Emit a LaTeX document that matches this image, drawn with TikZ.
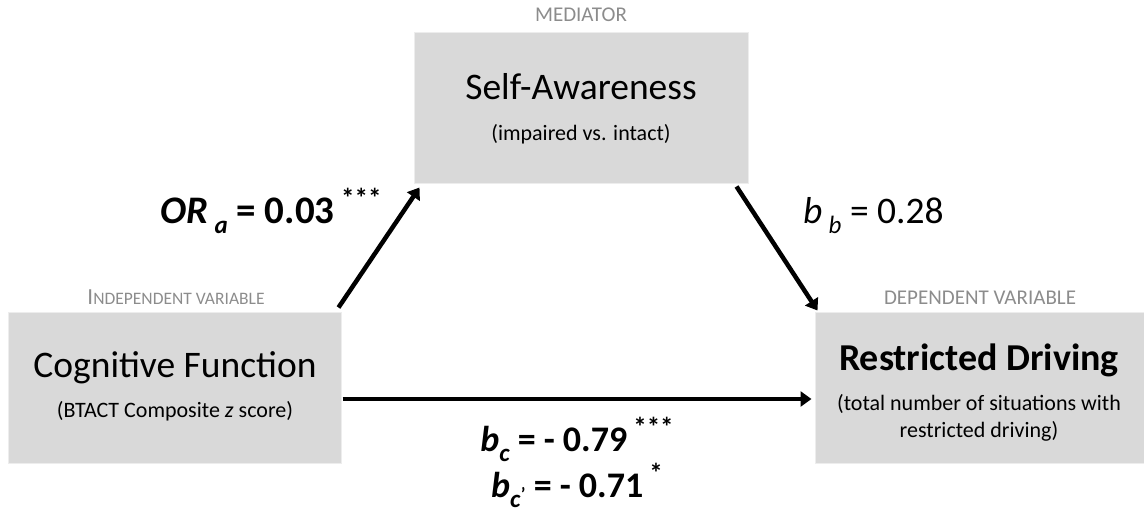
\documentclass[tikz,border=0pt]{standalone}
\usepackage{fontspec}
\setmainfont{Carlito}
\usetikzlibrary{arrows.meta,calc}
\definecolor{boxgray}{HTML}{D9D9D9}
\definecolor{boxline}{HTML}{EDEDED}
\definecolor{labgray}{HTML}{8C8C8C}
\newcommand\lsub[1]{\raisebox{-0.28em}{\fontsize{25}{25}\selectfont #1}}
\newcommand\lsup[1]{\raisebox{0.40em}{\fontsize{27}{27}\selectfont #1}}
\begin{document}
\begin{tikzpicture}[x=1pt,y=-1pt,
  box/.style={rectangle, fill=boxgray, draw=boxline, line width=1pt, inner sep=0pt},
  txt/.style={inner sep=0pt, anchor=base, align=center},
  cat/.style={inner sep=0pt, anchor=base, text=labgray, font=\fontsize{21}{25}\selectfont},
  main/.style={txt, font=\fontsize{37.5}{44}\selectfont},
  sub/.style={txt, font=\fontsize{22}{27}\selectfont},
  path/.style={line width=4.5pt, -{Triangle[length=11pt,width=15pt]}},
  coef/.style={inner sep=0pt, anchor=base, font=\fontsize{37.5}{40}\selectfont}]
\useasboundingbox (0,0) rectangle (1144,512);

% boxes
\node[box, minimum width=334pt, minimum height=151pt] (med) at (581,107.5) {};
\node[box, minimum width=333pt, minimum height=151pt] (cog) at (174.5,387.5) {};
\node[box, minimum width=334pt, minimum height=151pt] (dv) at (982,387.5) {};

% category labels
\node[cat] (medlab) at (581,21) {MEDIATOR};
\node[cat] (ivlab) at (176,304) {\fontsize{23}{25}\selectfont I\fontsize{17.5}{25}\selectfont NDEPENDENT VARIABLE};
\node[cat] (dvlab) at (980,304) {DEPENDENT VARIABLE};

% box texts
\node[main] (medt) at (581,99) {Self-Awareness};
\node[sub] (meds) at (581,140) {(impaired vs. intact)};
\node[main] (cogt) at (175,377) {Cognitive Function};
\node[sub] (cogs) at (175,417) {(BTACT Composite \textit{z} score)};
\node[main, font=\fontsize{38}{44}\selectfont\bfseries] (dvt) at (979,370) {Restricted Driving};
\node[sub] (dvs1) at (979,410) {(total number of situations with};
\node[sub] (dvs2) at (979,437) {restricted driving)};

% paths
\draw[path] ($(cog.north east)+(-3,-4)$) -- ($(med.south west)+(6,4)$);
\draw[path] ($(med.south east)+(-12,3)$) -- ($(dv.north west)+(3,-1)$);
\coordinate (cstart) at ($(cog.east)+(1,11.5)$);
\draw[path] (cstart) -- ($(cstart -| dv.west)+(-3,0)$);

% coefficients
\node[coef, anchor=base west, font=\fontsize{39}{40}\selectfont] (ora) at (160,223) {\bfseries\itshape OR\,\lsub{a}\upshape\ = 0.03\,\lsup{***}};
\node[coef, anchor=base west] (bb) at (803,223) {\itshape b\,\lsub{b}\upshape\ = 0.28};
\node[coef, anchor=base, font=\fontsize{36}{38}\selectfont\bfseries] (bc) at (577,451) {\itshape b\lsub{c}\upshape\ = - 0.79\,\lsup{***}};
\node[coef, anchor=base, font=\fontsize{36}{38}\selectfont\bfseries] (bcp) at (577,497) {\itshape b\lsub{c\kern0.5pt\raisebox{0.25em}{\fontsize{18}{18}\selectfont\upshape\textquoteright}}\upshape\ = - 0.71\,\lsup{*}};
\end{tikzpicture}
\end{document}
